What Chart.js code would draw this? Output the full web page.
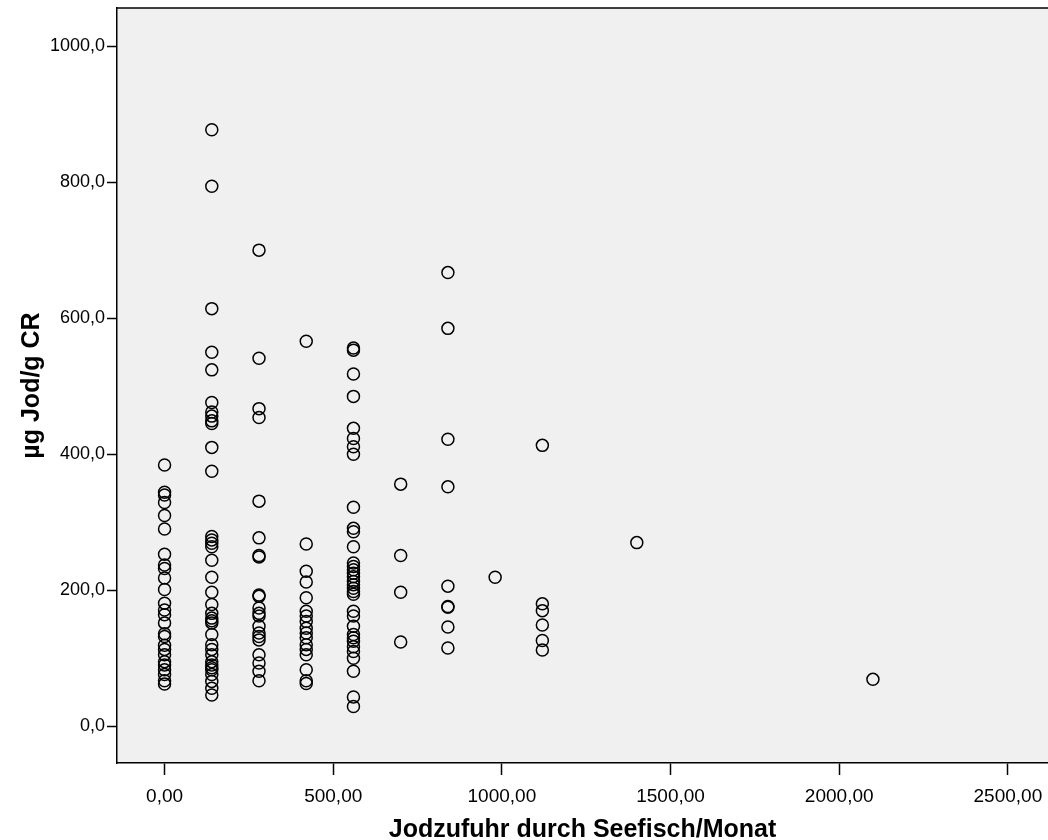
<!DOCTYPE html>
<html>
<head>
<meta charset="utf-8">
<script src="https://cdn.jsdelivr.net/npm/chart.js@4"></script>
<style>
  html, body { margin: 0; padding: 0; background: #fff; overflow: hidden; }
  #wrap { position: relative; width: 1048px; height: 840px; overflow: hidden; }
  #scatter { display: block; }
</style>
</head>
<body>
<div id="wrap"><canvas id="scatter"></canvas></div>
<script>
// Jodzufuhr (x) je Gruppe und gemessene Werte (y)
const intake = [0, 140, 280, 420, 560, 700, 840, 980, 1120, 1400, 2100];

const jod0 = [384, 344, 340, 329, 310, 290, 253, 237, 232, 218, 201, 181, 171, 164, 152,
  136, 132, 119, 113, 105, 95, 90, 83, 76, 67, 62];
const jod140 = [877, 794, 614, 550, 524, 476, 462, 456, 449, 445, 410, 375, 279, 274, 269,
  264, 244, 219, 197, 179, 166, 159, 155, 152, 135, 120, 113, 105, 95, 90, 86, 83, 76, 66, 56, 46];
const jod280 = [700, 541, 467, 454, 331, 277, 251, 249, 193, 191, 174, 166, 162, 147, 137,
  132, 127, 105, 93, 81, 67];
const jod420 = [566, 268, 228, 212, 189, 169, 162, 154, 144, 137, 130, 120, 113, 105, 83, 67, 63];
const jod560 = [556, 553, 518, 485, 438, 423, 411, 400, 322, 291, 286, 264, 240, 235, 230,
  225, 220, 213, 208, 203, 198, 194, 169, 162, 147, 135, 130, 125, 117, 110, 100, 81, 43, 29];
const jod700 = [356, 251, 197, 124];
const jod840 = [667, 585, 422, 352, 206, 176, 175, 146, 115];
const jod980 = [219];
const jod1120 = [413, 180, 170, 149, 126, 112];
const jod1400 = [270];
const jod2100 = [69];

const groups = [jod0, jod140, jod280, jod420, jod560, jod700, jod840, jod980, jod1120, jod1400, jod2100];

const xTicks = [0, 500, 1000, 1500, 2000, 2500];
const yTicks = [0, 200, 400, 600, 800, 1000];

const points = [];
groups.forEach(function(vals, i) {
    vals.forEach(function(v) {
        points.push({ x: intake[i], y: v });
    });
});

// Hintergrund der Plotfläche + obere Kante
const plotBox = {
    id: 'plotBox',
    beforeDraw: function(chart) {
        const a = chart.chartArea;
        const ctx = chart.ctx;
        ctx.save();
        ctx.fillStyle = '#f0f0f0';
        ctx.fillRect(a.left, a.top, chart.width - a.left, a.bottom - a.top);
        ctx.restore();
    },
    afterDraw: function(chart) {
        const a = chart.chartArea;
        const ctx = chart.ctx;
        ctx.save();
        ctx.strokeStyle = '#000';
        ctx.lineWidth = 1.5;
        ctx.beginPath();
        ctx.moveTo(a.left, a.top);
        ctx.lineTo(chart.width, a.top);
        ctx.stroke();
        ctx.restore();
    }
};

// keine zusätzliche Randpolsterung durch Tick-Beschriftungen
function noLabelPadding(scale) {
    scale.paddingLeft = 0;
    scale.paddingRight = 0;
    scale.paddingTop = 0;
    scale.paddingBottom = 0;
}

new Chart(document.getElementById('scatter').getContext('2d'), {
    type: 'scatter',
    data: {
        datasets: [{
            data: points,
            pointStyle: 'circle',
            pointRadius: 6,
            pointHoverRadius: 6,
            pointBorderWidth: 1.5,
            borderColor: '#000',
            backgroundColor: 'rgba(0,0,0,0)'
        }]
    },
    options: {
        responsive: true,
        maintainAspectRatio: false,
        animation: false,
        layout: { autoPadding: false, padding: { top: 8, right: 0, left: 0, bottom: 0 } },
        plugins: {
            legend: { display: false },
            tooltip: { enabled: false }
        },
        scales: {
            x: {
                type: 'linear',
                min: -141,
                max: 2619,
                afterBuildTicks: function(scale) {
                    scale.ticks = xTicks.map(function(v) { return { value: v }; });
                },
                afterFit: function(scale) {
                    scale.height = 77;
                    noLabelPadding(scale);
                },
                grid: {
                    drawOnChartArea: false,
                    drawTicks: true,
                    tickLength: 12,
                    tickWidth: 1.5,
                    tickColor: '#000'
                },
                border: { display: true, color: '#000', width: 1.5 },
                ticks: {
                    color: '#000',
                    padding: 10,
                    maxRotation: 0,
                    font: { family: 'Liberation Sans, Arial', size: 19 },
                    callback: function(v) { return v.toFixed(2).replace('.', ','); }
                },
                title: {
                    display: true,
                    text: 'Jodzufuhr durch Seefisch/Monat',
                    color: '#000',
                    padding: { top: 0, bottom: -5 },
                    font: { family: 'Liberation Sans, Arial', size: 25, weight: 'bold' }
                }
            },
            y: {
                type: 'linear',
                min: -54,
                max: 1056,
                afterBuildTicks: function(scale) {
                    scale.ticks = yTicks.map(function(v) { return { value: v }; });
                },
                afterFit: function(scale) {
                    scale.width = 117;
                    noLabelPadding(scale);
                },
                grid: {
                    drawOnChartArea: false,
                    drawTicks: true,
                    tickLength: 10,
                    tickWidth: 1.5,
                    tickColor: '#000'
                },
                border: { display: true, color: '#000', width: 1.5 },
                ticks: {
                    color: '#000',
                    padding: 2,
                    font: { family: 'Liberation Sans, Arial', size: 18 },
                    callback: function(v) { return v.toFixed(1).replace('.', ','); }
                },
                title: {
                    display: true,
                    text: 'µg Jod/g CR',
                    color: '#000',
                    padding: { top: 17, bottom: 0 },
                    font: { family: 'Liberation Sans, Arial', size: 25, weight: 'bold' }
                }
            }
        }
    },
    plugins: [plotBox]
});
</script>
</body>
</html>
